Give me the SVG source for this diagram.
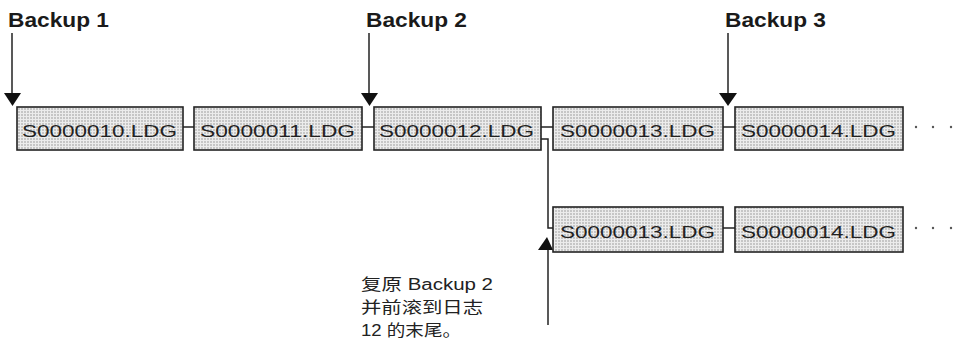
<svg xmlns="http://www.w3.org/2000/svg" width="955" height="346" viewBox="0 0 955 346">
  <style>
    .lbl { font-family: "Liberation Sans", Arial, sans-serif; font-weight: bold; font-size: 20px; fill: #1a1a1a; }
    .box { fill: url(#dots); stroke: #222; stroke-width: 1.6; }
    .fname { font-family: "Liberation Sans", Arial, sans-serif; font-size: 17px; fill: #222; }
    .wire { fill: none; stroke: #222; stroke-width: 1.5; }
    .head { fill: #111; }
    .note { font-family: "Liberation Sans", "Noto Sans CJK SC", sans-serif; font-size: 16px; fill: #222; }
    .dot { fill: #555; }
  </style>
  <defs>
    <pattern id="dots" width="3" height="3" patternUnits="userSpaceOnUse">
      <rect width="3" height="3" fill="#ececec"/>
      <rect width="2" height="2" fill="#c6c6c6"/>
    </pattern>
  </defs>
  <rect width="955" height="346" fill="#fff"/>

  <!-- backup markers -->
  <g id="backup1">
    <text class="lbl" x="8" y="27" textLength="101" lengthAdjust="spacingAndGlyphs">Backup 1</text>
    <line class="wire" x1="12" y1="33" x2="12" y2="95"/>
    <polygon class="head" points="4,93 21,93 12.5,106"/>
  </g>
  <g id="backup2">
    <text class="lbl" x="366" y="27" textLength="101" lengthAdjust="spacingAndGlyphs">Backup 2</text>
    <line class="wire" x1="369" y1="33" x2="369" y2="95"/>
    <polygon class="head" points="361,93 378,93 369.5,106"/>
  </g>
  <g id="backup3">
    <text class="lbl" x="725" y="27" textLength="101" lengthAdjust="spacingAndGlyphs">Backup 3</text>
    <line class="wire" x1="728" y1="33" x2="728" y2="95"/>
    <polygon class="head" points="719,93 737,93 728,106"/>
  </g>

  <!-- connectors -->
  <g id="connectors">
    <line class="wire" x1="183" y1="127" x2="194" y2="127"/>
    <line class="wire" x1="362" y1="127" x2="374" y2="127"/>
    <line class="wire" x1="541" y1="127" x2="553" y2="127"/>
    <line class="wire" x1="723" y1="127" x2="735" y2="127"/>
    <polyline class="wire" points="541,139 548,139 548,228 553,228"/>
    <line class="wire" x1="723" y1="228" x2="735" y2="228"/>
    <line class="wire" x1="548" y1="325" x2="548" y2="248"/>
    <polygon class="head" points="538,250 553,250 547,237"/>
  </g>

  <!-- main log chain -->
  <g id="log10">
    <rect class="box" x="17" y="107" width="166" height="43"/>
    <text class="fname" x="22" y="137" textLength="155" lengthAdjust="spacingAndGlyphs">S0000010.LDG</text>
  </g>
  <g id="log11">
    <rect class="box" x="194" y="107" width="168" height="43"/>
    <text class="fname" x="200" y="137" textLength="155" lengthAdjust="spacingAndGlyphs">S0000011.LDG</text>
  </g>
  <g id="log12">
    <rect class="box" x="374" y="107" width="167" height="43"/>
    <text class="fname" x="379" y="137" textLength="155" lengthAdjust="spacingAndGlyphs">S0000012.LDG</text>
  </g>
  <g id="log13">
    <rect class="box" x="553" y="107" width="170" height="43"/>
    <text class="fname" x="560" y="137" textLength="155" lengthAdjust="spacingAndGlyphs">S0000013.LDG</text>
  </g>
  <g id="log14">
    <rect class="box" x="735" y="107" width="168" height="43"/>
    <text class="fname" x="741" y="137" textLength="155" lengthAdjust="spacingAndGlyphs">S0000014.LDG</text>
  </g>
  <g id="more1">
    <circle class="dot" cx="916" cy="127" r="1.2"/>
    <circle class="dot" cx="933" cy="127" r="1.2"/>
    <circle class="dot" cx="951" cy="127" r="1.2"/>
  </g>

  <!-- restored branch -->
  <g id="log13b">
    <rect class="box" x="553" y="207" width="170" height="45"/>
    <text class="fname" x="560" y="238" textLength="155" lengthAdjust="spacingAndGlyphs">S0000013.LDG</text>
  </g>
  <g id="log14b">
    <rect class="box" x="735" y="207" width="168" height="45"/>
    <text class="fname" x="741" y="238" textLength="155" lengthAdjust="spacingAndGlyphs">S0000014.LDG</text>
  </g>
  <g id="more2">
    <circle class="dot" cx="916" cy="228" r="1.2"/>
    <circle class="dot" cx="933" cy="228" r="1.2"/>
    <circle class="dot" cx="951" cy="228" r="1.2"/>
  </g>

  <!-- restore note -->
  <g id="note">
    <text class="note" x="361" y="290" textLength="132" lengthAdjust="spacingAndGlyphs">复原 Backup 2</text>
    <text class="note" x="361" y="313" textLength="122" lengthAdjust="spacingAndGlyphs">并前滚到日志</text>
    <text class="note" x="361" y="336" textLength="100" lengthAdjust="spacingAndGlyphs">12 的末尾。</text>
  </g>
</svg>
